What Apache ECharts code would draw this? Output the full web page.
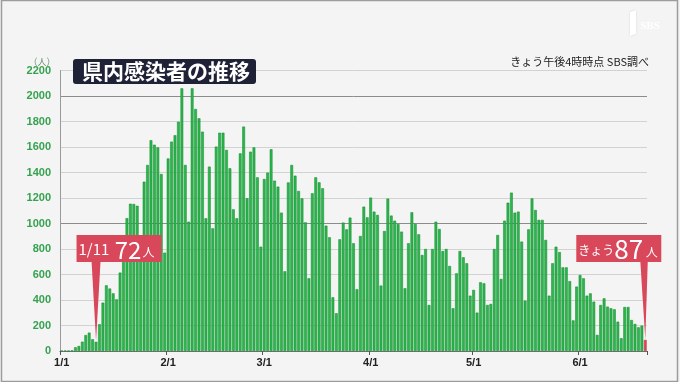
<!DOCTYPE html>
<html>
<head>
<meta charset="utf-8">
<script src="https://cdn.jsdelivr.net/npm/echarts@6/dist/echarts.min.js"></script>
<style>
html,body{margin:0;padding:0;background:#f4f4f4;}
#c{width:680px;height:382px;}
</style>
</head>
<body>
<div id="c"></div>
<script>
// ---- data ----
const monthDays = [31, 28, 31, 30, 31, 20];   // 2022-01-01 .. 2022-06-20
const categories = [];
monthDays.forEach((n, m) => { for (let d = 1; d <= n; d++) categories.push((m + 1) + '/' + d); });

const cases = [
  2, 3, 2, 5, 29, 39, 73, 125, 144, 92, 72, 210, 379, 515, 490, 452, 405, 615, 820, 1042,
  1155, 1153, 1139, 800, 1328, 1459, 1653, 1618, 1597, 1388, 771,
  1510, 1642, 1692, 1798, 2060, 1459, 1014, 2060, 1898, 1825, 1720, 1041, 1446, 962, 1603,
  1712, 1712, 1577, 1433, 1111, 1041, 1550, 1760, 1198, 1563, 1597, 1362, 818,
  1349, 1399, 1582, 1336, 1289, 1085, 625, 1322, 1459, 1375, 1255, 1197, 1009, 570, 1237,
  1362, 1323, 1276, 983, 892, 421, 296, 876, 1007, 954, 1046, 845, 484, 902, 1132, 1048,
  1203, 1093, 1067, 513, 941, 1195, 1062, 1022, 996, 936, 492, 845, 1088, 996, 915, 753,
  800, 361, 800, 1014, 957, 784, 800, 667, 335, 609, 784, 735, 688, 434,
  479, 301, 539, 531, 361, 369, 800, 910, 565, 1022, 1163, 1242, 1085, 1093, 858, 395,
  954, 1197, 1106, 1028, 1028, 871, 434, 688, 818, 776, 656, 656, 548, 240, 505,
  596, 570, 434, 452, 387, 126, 361, 413, 348, 335, 327, 230, 100, 345, 345, 243, 212,
  186, 199, 87
];
const yTicks = [0, 200, 400, 600, 800, 1000, 1200, 1400, 1600, 1800, 2000, 2200];
const titleText = '県内感染者の推移';
const sourceText = 'きょう午後4時時点 SBS調べ';
const unitText = '（人）';
const note1 = { date: '1/11', value: 72 };
const noteToday = { date: '6/20', value: 87 };

const GREEN = '#28b84a', GREEN_EDGE = '#178632', RED = '#d9475b';

const chart = echarts.init(document.getElementById('c'), null, { renderer: 'canvas' });

const barData = cases.map((v, i) => i === cases.length - 1
  ? { value: v, itemStyle: { color: RED, borderColor: '#b8303f' } }
  : v);

chart.setOption({
  backgroundColor: '#f4f4f4',
  animation: false,
  grid: { left: 60, right: 33, top: 70.5, bottom: 31, containLabel: false },
  xAxis: {
    type: 'category',
    data: categories,
    boundaryGap: true,
    axisLine: { show: true, lineStyle: { color: '#6f6f6f', width: 1.2 } },
    axisTick: {
      show: true, length: 4, lineStyle: { color: '#555' },
      interval: (i, v) => v.split('/')[1] === '1'
    },
    axisLabel: {
      interval: (i, v) => v.split('/')[1] === '1',
      color: '#222', fontSize: 11, fontWeight: 'bold',
      fontFamily: 'Liberation Sans, Arial, sans-serif', margin: 6
    },
    splitLine: { show: false }
  },
  yAxis: {
    type: 'value',
    min: yTicks[0], max: yTicks[yTicks.length - 1], interval: 200,
    axisLine: { show: true, lineStyle: { color: '#9a9a9a', width: 1 } },
    axisTick: { show: false },
    axisLabel: {
      color: '#35a24f', fontSize: 11, fontWeight: 'bold',
      fontFamily: 'Liberation Sans, Arial, sans-serif', margin: 9,
      formatter: v => String(v)
    },
    splitLine: {
      show: true,
      lineStyle: { color: ['#8c8c8c', '#d2d2d2', '#d2d2d2', '#d2d2d2', '#d2d2d2'], width: 1 }
    }
  },
  series: [{
    type: 'bar',
    data: barData,
    barCategoryGap: '20%',
    itemStyle: { color: GREEN, borderColor: GREEN_EDGE, borderWidth: 0.5 },
    emphasis: { disabled: true }
  }]
});

// annotations positioned through the axis scales
const p1 = chart.convertToPixel({ xAxisIndex: 0, yAxisIndex: 0 }, [note1.date, note1.value]);
const p2 = chart.convertToPixel({ xAxisIndex: 0, yAxisIndex: 0 }, [noteToday.date, noteToday.value]);
const boxTop = 235, boxH = 27;
const b1x = p1[0] - 19.5, b1w = 85;
const b2x = p2[0] - 69, b2w = 85;

chart.setOption({
  graphic: [
    // frame
    { type: 'rect', shape: { x: 1.5, y: 0.5, width: 676, height: 381 }, style: { fill: 'none', stroke: '#9c9c9c', lineWidth: 1.5 }, silent: true },
    // title box
    { type: 'rect', shape: { x: 73, y: 59, width: 183, height: 25, r: 3 }, style: { fill: '#1f2236' }, z: 10 },
    { type: 'text', x: 82, y: 71.5, style: { text: titleText, fill: '#ffffff', font: 'bold 21px "Noto Sans CJK JP", sans-serif', textVerticalAlign: 'middle' }, z: 11 },
    // unit
    { type: 'text', x: 42, y: 62, style: { text: unitText, fill: '#6b8f6f', font: '9px "Noto Sans CJK JP", sans-serif', textAlign: 'center', textVerticalAlign: 'middle' } },
    // source
    { type: 'text', x: 649, y: 62, style: { text: sourceText, fill: '#222', font: '11px "Noto Sans CJK JP", sans-serif', textAlign: 'right', textVerticalAlign: 'middle' } },
    // SBS watermark
    { type: 'text', x: 650, y: 26, style: { text: 'SBS', fill: '#ffffff', font: 'bold 11px "Liberation Serif", serif', textAlign: 'center', textVerticalAlign: 'middle', shadowColor: 'rgba(0,0,0,0.15)', shadowBlur: 2 } },
    { type: 'polygon', shape: { points: [[630, 12], [636, 10], [636, 34], [630, 36]] }, style: { fill: '#ffffff', shadowColor: 'rgba(0,0,0,0.15)', shadowBlur: 2 } },
    // note 1/11
    { type: 'polygon', shape: { points: [[p1[0] - 4.5, boxTop + boxH - 1], [p1[0] + 4.5, boxTop + boxH - 1], [p1[0], p1[1] - 1]] }, style: { fill: RED }, z: 20 },
    { type: 'rect', shape: { x: b1x, y: boxTop, width: b1w, height: boxH }, style: { fill: RED }, z: 20 },
    { type: 'text', x: b1x + 2, y: boxTop + boxH / 2 + 1, z: 21,
      style: { text: '{a|1/11}{b| 72}{c|人}', textVerticalAlign: 'middle',
        rich: {
          a: { fill: '#fff', font: '15px "Noto Sans CJK JP", sans-serif' },
          b: { fill: '#fff', font: '24px "Noto Sans CJK JP", sans-serif' },
          c: { fill: '#fff', font: '12px "Noto Sans CJK JP", sans-serif', padding: [6, 0, 0, 1] }
        } } },
    // note today
    { type: 'polygon', shape: { points: [[p2[0] - 5, boxTop + boxH - 1], [p2[0] + 2.5, boxTop + boxH - 1], [p2[0], p2[1] - 1]] }, style: { fill: RED }, z: 20 },
    { type: 'rect', shape: { x: b2x, y: boxTop, width: b2w, height: boxH }, style: { fill: RED }, z: 20 },
    { type: 'text', x: b2x + 2, y: boxTop + boxH / 2 + 1, z: 21,
      style: { text: '{a|きょう}{b|87}{c| 人}', textVerticalAlign: 'middle',
        rich: {
          a: { fill: '#fff', font: '12px "Noto Sans CJK JP", sans-serif', padding: [2, 0, 0, 0] },
          b: { fill: '#fff', font: '26px "Noto Sans CJK JP", sans-serif' },
          c: { fill: '#fff', font: '12px "Noto Sans CJK JP", sans-serif', padding: [6, 0, 0, 0] }
        } } }
  ]
});
</script>
</body>
</html>
